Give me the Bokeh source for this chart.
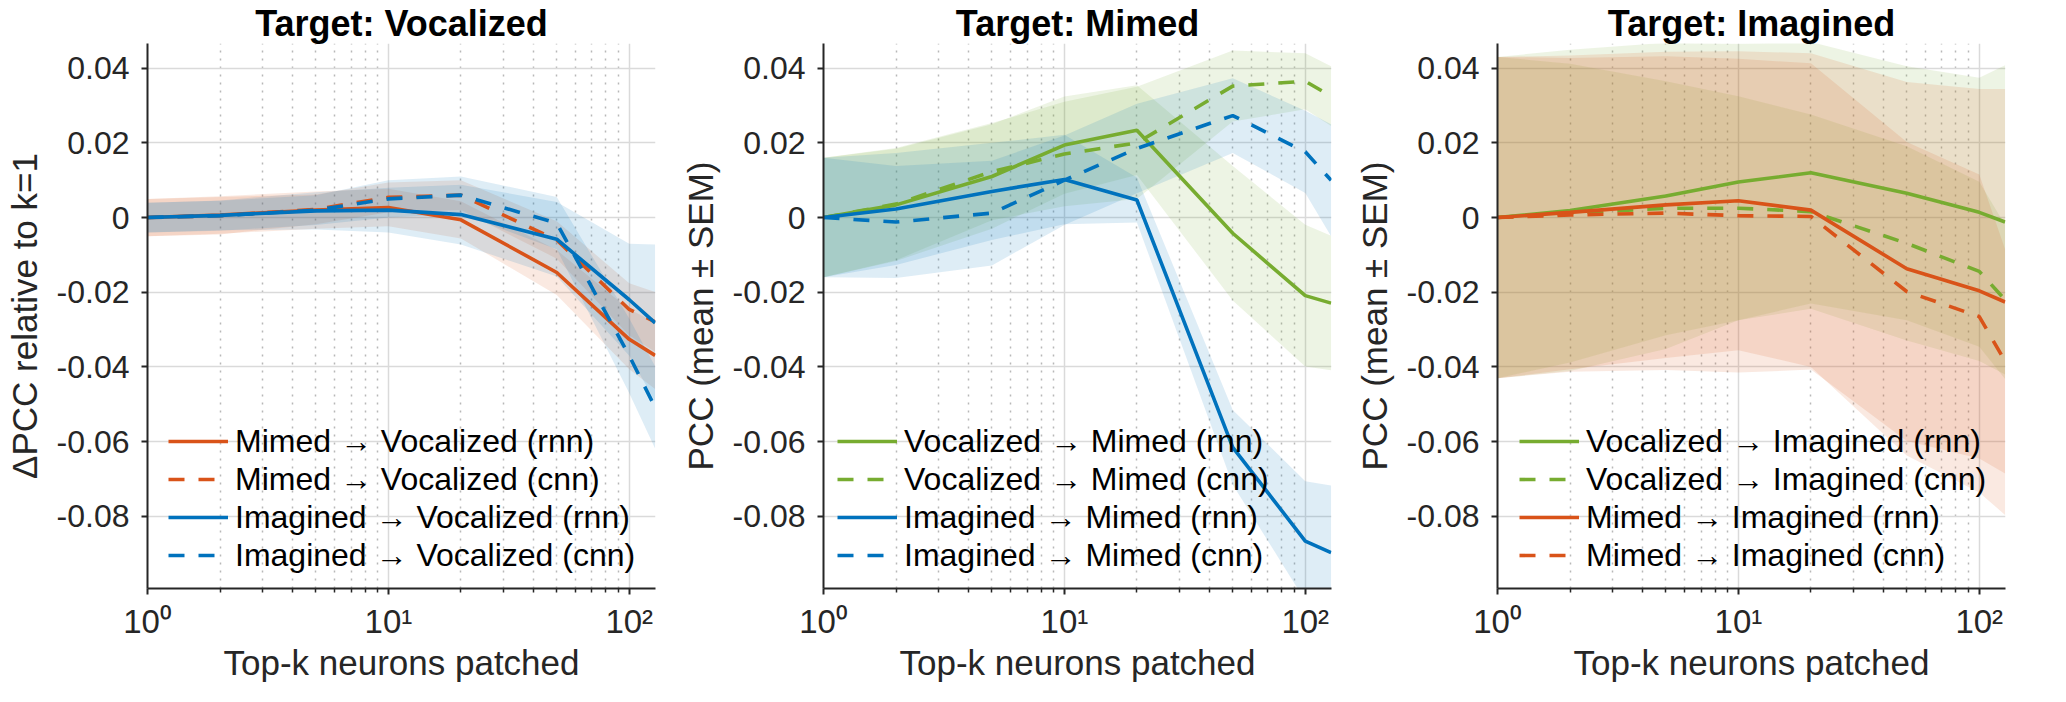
from bokeh.plotting import figure
from bokeh.layouts import row
from bokeh.models import FixedTicker, Legend, LegendItem, Range1d, Title
from bokeh.embed import file_html
from bokeh.resources import INLINE

# ---------------- data ----------------
k_values = [1, 2, 5, 10, 20, 50, 100, 128]

# Target: Vocalized
voc_mim_rnn = [0, 0.0007, 0.0020, 0.0027, -0.0006, -0.0147, -0.0326, -0.0369]
voc_mim_cnn = [0, 0.0005, 0.0022, 0.0054, 0.0060, -0.0060, -0.0246, -0.0279]
voc_img_rnn = [0, 0.0006, 0.0018, 0.0020, 0.0008, -0.0058, -0.0220, -0.0282]
voc_img_cnn = [0, 0.0005, 0.0020, 0.0050, 0.0060, -0.0015, -0.0370, -0.0508]
voc_mim_rnn_sem = [0.005, 0.005, 0.005, 0.005, 0.005, 0.006, 0.008, 0.009]
voc_mim_cnn_sem = [0.005, 0.005, 0.004, 0.004, 0.004, 0.005, 0.007, 0.008]
voc_img_rnn_sem = [0.004, 0.004, 0.005, 0.006, 0.008, 0.010, 0.015, 0.021]
voc_img_cnn_sem = [0.004, 0.004, 0.004, 0.005, 0.005, 0.007, 0.010, 0.011]

# Target: Mimed
mim_voc_rnn = [0, 0.0034, 0.0110, 0.0194, 0.0234, -0.0042, -0.0209, -0.0229]
mim_voc_cnn = [0, 0.0036, 0.0123, 0.0170, 0.0200, 0.0352, 0.0365, 0.0325]
mim_img_rnn = [0, 0.0023, 0.0070, 0.0102, 0.0047, -0.0615, -0.0866, -0.0897]
mim_img_cnn = [0, -0.0012, 0.0012, 0.0100, 0.0185, 0.0273, 0.0176, 0.0100]
mim_voc_rnn_sem = [0.016, 0.015, 0.014, 0.013, 0.012, 0.018, 0.019, 0.018]
mim_voc_cnn_sem = [0.016, 0.015, 0.013, 0.014, 0.015, 0.0095, 0.0075, 0.008]
mim_img_rnn_sem = [0.016, 0.015, 0.013, 0.012, 0.006, 0.010, 0.016, 0.018]
mim_img_cnn_sem = [0.016, 0.015, 0.014, 0.012, 0.012, 0.010, 0.011, 0.015]

# Target: Imagined
img_voc_rnn = [0, 0.0019, 0.0058, 0.0095, 0.0120, 0.0065, 0.0014, -0.0012]
img_voc_cnn = [0, 0.0012, 0.0025, 0.0025, 0.0016, -0.0069, -0.0144, -0.0220]
img_mim_rnn = [0, 0.0014, 0.0034, 0.0045, 0.0020, -0.0137, -0.0196, -0.0226]
img_mim_cnn = [0, 0.0007, 0.0012, 0.0005, 0.0003, -0.0198, -0.0265, -0.0385]
img_voc_rnn_sem = [0.043, 0.043, 0.041, 0.037, 0.035, 0.034, 0.036, 0.042]
img_voc_cnn_sem = [0.043, 0.040, 0.034, 0.030, 0.026, 0.026, 0.024, 0.020]
img_mim_rnn_sem = [0.043, 0.042, 0.041, 0.040, 0.042, 0.050, 0.054, 0.057]
img_mim_cnn_sem = [0.043, 0.042, 0.042, 0.042, 0.041, 0.040, 0.038, 0.030]

x_ticks = [1, 10, 100]
x_tick_labels = ["10\u2070", "10\u00b9", "10\u00b2"]
x_minor_ticks = [2, 3, 4, 5, 6, 7, 8, 9, 20, 30, 40, 50, 60, 70, 80, 90]
y_ticks = [-0.08, -0.06, -0.04, -0.02, 0.0, 0.02, 0.04]
y_tick_labels = ["-0.08", "-0.06", "-0.04", "-0.02", "0", "0.02", "0.04"]

ORANGE = "#D95319"
BLUE = "#0072BD"
GREEN = "#77AC30"
FONT = "Liberation Sans"
TXT = "#262626"

panels = [
    dict(title="Target: Vocalized", ylabel="\u0394PCC relative to k=1",
         series=[("Mimed \u2192 Vocalized (rnn)", voc_mim_rnn, voc_mim_rnn_sem, ORANGE, "solid"),
                 ("Mimed \u2192 Vocalized (cnn)", voc_mim_cnn, voc_mim_cnn_sem, ORANGE, "dashed"),
                 ("Imagined \u2192 Vocalized (rnn)", voc_img_rnn, voc_img_rnn_sem, BLUE, "solid"),
                 ("Imagined \u2192 Vocalized (cnn)", voc_img_cnn, voc_img_cnn_sem, BLUE, "dashed")],
         left=147, width=676, legend_x=21),
    dict(title="Target: Mimed", ylabel="PCC (mean \u00b1 SEM)",
         series=[("Vocalized \u2192 Mimed (rnn)", mim_voc_rnn, mim_voc_rnn_sem, GREEN, "solid"),
                 ("Vocalized \u2192 Mimed (cnn)", mim_voc_cnn, mim_voc_cnn_sem, GREEN, "dashed"),
                 ("Imagined \u2192 Mimed (rnn)", mim_img_rnn, mim_img_rnn_sem, BLUE, "solid"),
                 ("Imagined \u2192 Mimed (cnn)", mim_img_cnn, mim_img_cnn_sem, BLUE, "dashed")],
         left=147, width=673, legend_x=14),
    dict(title="Target: Imagined", ylabel="PCC (mean \u00b1 SEM)",
         series=[("Vocalized \u2192 Imagined (rnn)", img_voc_rnn, img_voc_rnn_sem, GREEN, "solid"),
                 ("Vocalized \u2192 Imagined (cnn)", img_voc_cnn, img_voc_cnn_sem, GREEN, "dashed"),
                 ("Mimed \u2192 Imagined (rnn)", img_mim_rnn, img_mim_rnn_sem, ORANGE, "solid"),
                 ("Mimed \u2192 Imagined (cnn)", img_mim_cnn, img_mim_cnn_sem, ORANGE, "dashed")],
         left=148, width=680, legend_x=22),
]

figs = []
for cfg in panels:
    p = figure(width=cfg["width"], height=686, x_axis_type="log",
               x_range=Range1d(1, 128.5), y_range=Range1d(-0.0993, 0.0466),
               output_backend="svg", toolbar_location=None,
               min_border_left=cfg["left"], min_border_right=cfg["width"] - cfg["left"] - 508,
               min_border_top=38, min_border_bottom=98)
    p.title = Title(text=cfg["title"], align="center", text_font=FONT,
                    text_font_size="36px", text_font_style="bold", text_color="black",
                    standoff=0, offset=0)
    p.outline_line_color = None
    p.background_fill_color = "white"
    p.border_fill_color = "white"

    # axes
    for ax in (p.xaxis[0], p.yaxis[0]):
        ax.axis_line_color = TXT
        ax.axis_line_width = 2
        ax.major_tick_line_color = TXT
        ax.major_tick_line_width = 2
        ax.major_tick_out = 6
        ax.major_tick_in = 0
        ax.minor_tick_line_color = TXT
        ax.minor_tick_line_width = 1.5
        ax.minor_tick_out = 4
        ax.minor_tick_in = 0
        ax.major_label_text_font = FONT
        ax.major_label_text_color = TXT
        ax.axis_label_text_font = FONT
        ax.axis_label_text_font_style = "normal"
        ax.axis_label_text_color = TXT
        ax.axis_label_text_font_size = "35px"

    xa = p.xaxis[0]
    xa.ticker = FixedTicker(ticks=x_ticks, minor_ticks=x_minor_ticks)
    xa.major_label_overrides = dict(zip(x_ticks, x_tick_labels))
    xa.major_label_text_font_size = "33px"
    xa.major_label_text_line_height = 1.0
    xa.major_label_standoff = 8
    xa.axis_label = "Top-k neurons patched"
    xa.axis_label_text_line_height = 1.0
    xa.axis_label_standoff = 0

    ya = p.yaxis[0]
    ya.ticker = FixedTicker(ticks=y_ticks)
    ya.major_label_overrides = dict(zip(y_ticks, y_tick_labels))
    ya.major_label_text_font_size = "32px"
    ya.major_label_standoff = 12
    ya.minor_tick_line_color = None
    ya.axis_label = cfg["ylabel"]
    ya.axis_label_standoff = 10

    # grids
    p.xgrid.grid_line_color = "#dadada"
    p.xgrid.grid_line_width = 1.5
    p.xgrid.minor_grid_line_color = "#b8b8b8"
    p.xgrid.minor_grid_line_dash = "2 6"
    p.xgrid.minor_grid_line_width = 1.5
    p.ygrid.grid_line_color = "#dadada"
    p.ygrid.grid_line_width = 1.5

    # SEM bands
    for label, mean, sem, color, dash in cfg["series"]:
        lo = [m - s for m, s in zip(mean, sem)]
        hi = [m + s for m, s in zip(mean, sem)]
        p.varea(x=k_values, y1=lo, y2=hi, fill_color=color, fill_alpha=0.13)

    items = []
    for label, mean, sem, color, dash in cfg["series"]:
        r = p.line(k_values, mean, line_color=color, line_width=3.6,
                   line_dash="solid" if dash == "solid" else "16 14")
        items.append(LegendItem(label=label, renderers=[r]))

    legend = Legend(items=items, location=(cfg["legend_x"], 14),
                    label_text_font=FONT, label_text_font_size="32px",
                    label_text_color="black", glyph_width=60, glyph_height=38,
                    label_height=38, spacing=0, padding=0, margin=0,
                    label_standoff=7, background_fill_alpha=0,
                    border_line_color=None)
    p.add_layout(legend, "center")
    figs.append(p)

layout = row(*figs)
open("out.html", "w").write(file_html(layout, INLINE))
